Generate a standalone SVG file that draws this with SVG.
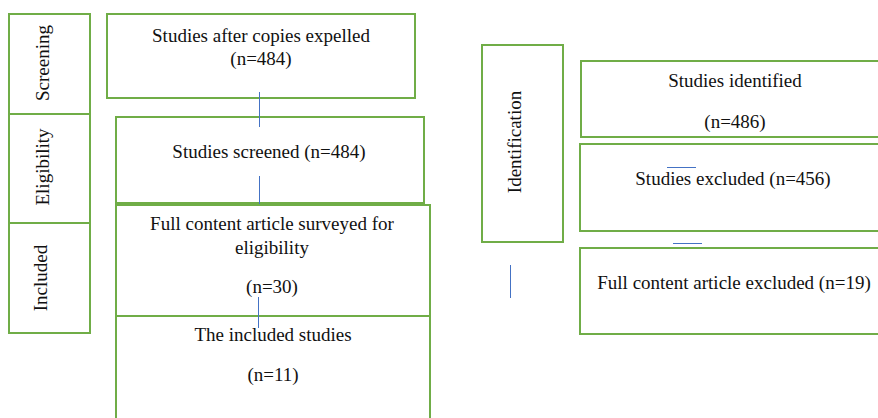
<svg xmlns="http://www.w3.org/2000/svg" width="878" height="418" viewBox="0 0 878 418">
<style>
.b{fill:#fff;stroke:#70AD47;stroke-width:2}
.t{font-family:"Liberation Serif","Times New Roman",serif;font-size:19px;fill:#111;text-anchor:middle}
.c{stroke:#4472C4;stroke-width:1;fill:none}
</style>
<rect width="878" height="418" fill="#fff"/>
<g id="phase-screening"><rect class="b" x="9" y="14" width="81" height="100"/><text class="t" transform="translate(49,63) rotate(-90)">Screening</text></g>
<g id="phase-eligibility"><rect class="b" x="9" y="114" width="81" height="109"/><text class="t" transform="translate(49,167) rotate(-90)">Eligibility</text></g>
<g id="phase-included"><rect class="b" x="9" y="223" width="81" height="110"/><text class="t" transform="translate(47,278) rotate(-90)">Included</text></g>
<g id="phase-identification"><rect class="b" x="482" y="45" width="81" height="197"/><text class="t" transform="translate(521,142) rotate(-90)">Identification</text></g>
<g id="n1"><rect class="b" x="107" y="14" width="308" height="84"/><text class="t" x="261" y="42">Studies after copies expelled</text><text class="t" x="261" y="65">(n=484)</text></g>
<g id="n2"><rect class="b" x="116" y="117" width="308" height="86"/><text class="t" x="269" y="158">Studies screened (n=484)</text></g>
<g id="n3"><rect class="b" x="116" y="205" width="314" height="111"/><text class="t" x="272" y="230">Full content article surveyed for</text><text class="t" x="272" y="254">eligibility</text><text class="t" x="272" y="293">(n=30)</text></g>
<g id="n4"><rect class="b" x="116" y="316" width="314" height="110"/><text class="t" x="273" y="341">The included studies</text><text class="t" x="273" y="381">(n=11)</text></g>
<g id="n5"><rect class="b" x="581" y="61" width="310" height="76"/><text class="t" x="735" y="87">Studies identified</text><text class="t" x="735" y="128">(n=486)</text></g>
<g id="n6"><rect class="b" x="580" y="144" width="310" height="87"/><text class="t" x="733" y="185">Studies excluded (n=456)</text></g>
<g id="n7"><rect class="b" x="580" y="248" width="310" height="86"/><text class="t" x="734" y="289">Full content article excluded (n=19)</text></g>
<g id="connectors">
<line class="c" x1="259.5" y1="92" x2="259.5" y2="127"/>
<line class="c" x1="259.5" y1="176" x2="259.5" y2="204"/>
<line class="c" x1="258.5" y1="297" x2="258.5" y2="328"/>
<line class="c" x1="667" y1="167.5" x2="696" y2="167.5"/>
<line class="c" x1="673" y1="243.5" x2="702" y2="243.5"/>
<line class="c" x1="510.5" y1="265" x2="510.5" y2="298"/>
</g>
</svg>
